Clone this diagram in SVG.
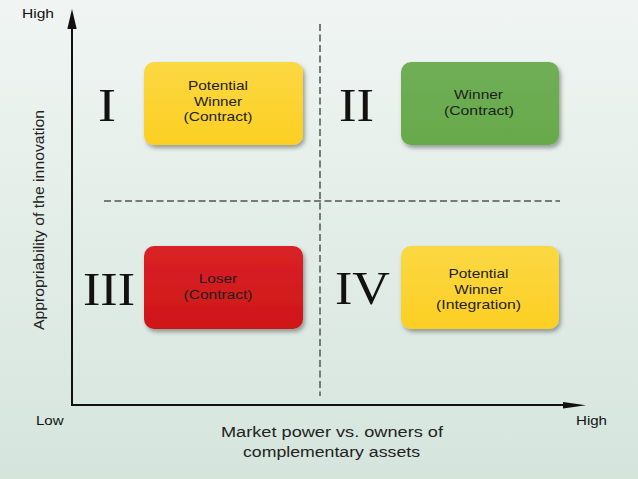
<svg xmlns="http://www.w3.org/2000/svg" width="638" height="479" viewBox="0 0 638 479">
<defs>
<linearGradient id="bg" x1="0" y1="0" x2="0" y2="1">
<stop offset="0" stop-color="#f0f5f3"/>
<stop offset="1" stop-color="#d5e5dc"/>
</linearGradient>
<linearGradient id="gy" x1="0" y1="0" x2="0" y2="1">
<stop offset="0" stop-color="#fbd843"/>
<stop offset="1" stop-color="#fccf22"/>
</linearGradient>
<linearGradient id="gg" x1="0" y1="0" x2="0" y2="1">
<stop offset="0" stop-color="#70ae55"/>
<stop offset="1" stop-color="#66aa4b"/>
</linearGradient>
<linearGradient id="gr" x1="0" y1="0" x2="0" y2="1">
<stop offset="0" stop-color="#d92226"/>
<stop offset="1" stop-color="#cf1618"/>
</linearGradient>
<filter id="sh" x="-10%" y="-10%" width="130%" height="140%">
<feDropShadow dx="2" dy="3" stdDeviation="2" flood-color="#000" flood-opacity="0.35"/>
</filter>
<style>
.box{filter:url(#sh)}
.bt{font-family:"Liberation Sans",Arial,sans-serif;font-size:13px;fill:#1e1e1e;text-anchor:middle}
.rn{font-family:"Liberation Serif","Times New Roman",serif;font-size:47px;fill:#111;text-anchor:middle}
.ax{font-family:"Liberation Sans",Arial,sans-serif;font-size:13.5px;fill:#111}
.al{font-family:"Liberation Sans",Arial,sans-serif;font-size:15.4px;fill:#222;text-anchor:middle}
.dash{stroke:#767a78;stroke-width:2;stroke-dasharray:7 3.5;fill:none}
.axis{stroke:#111;stroke-width:2;fill:none}
</style>
</defs>
<rect x="0" y="0" width="638" height="479" fill="url(#bg)"/>

<g id="connectors">
<line class="dash" x1="320" y1="24" x2="320" y2="396"/>
<line class="dash" x1="104" y1="201" x2="560" y2="201"/>
<line class="axis" x1="72" y1="405" x2="72" y2="27"/>
<polygon points="72,9 67.3,29 76.7,29" fill="#111"/>
<line class="axis" x1="71" y1="405" x2="565" y2="405"/>
<polygon points="586,405.3 563,402 563,408.6" fill="#111"/>
</g>

<g id="axis-labels">
<text class="ax" x="22" y="18" textLength="32" lengthAdjust="spacingAndGlyphs">High</text>
<text class="ax" x="36" y="425" textLength="27.6" lengthAdjust="spacingAndGlyphs">Low</text>
<text class="ax" x="576" y="425" textLength="31" lengthAdjust="spacingAndGlyphs">High</text>
<text class="al" transform="translate(44,220) rotate(-90)" x="0" y="0" textLength="220" lengthAdjust="spacingAndGlyphs">Appropriability of the innovation</text>
<text class="al" x="332" y="437" textLength="222" lengthAdjust="spacingAndGlyphs">Market power vs. owners of</text>
<text class="al" x="331.5" y="457" textLength="177" lengthAdjust="spacingAndGlyphs">complementary assets</text>
</g>

<g id="numerals">
<text class="rn" x="107" y="121" textLength="18" lengthAdjust="spacingAndGlyphs">I</text>
<text class="rn" x="356.5" y="121" textLength="35" lengthAdjust="spacingAndGlyphs">II</text>
<text class="rn" x="109" y="305" textLength="52" lengthAdjust="spacingAndGlyphs">III</text>
<text class="rn" x="362.5" y="304" textLength="55" lengthAdjust="spacingAndGlyphs">IV</text>
</g>

<g id="node-I">
<rect class="box" x="144" y="62" width="159" height="83" rx="10" fill="url(#gy)"/>
<text class="bt" x="218" y="90" textLength="60" lengthAdjust="spacingAndGlyphs">Potential</text>
<text class="bt" x="218" y="106" textLength="48" lengthAdjust="spacingAndGlyphs">Winner</text>
<text class="bt" x="218" y="121" textLength="69" lengthAdjust="spacingAndGlyphs">(Contract)</text>
</g>

<g id="node-II">
<rect class="box" x="401" y="62" width="158" height="83" rx="10" fill="url(#gg)"/>
<text class="bt" x="478.5" y="99" textLength="49" lengthAdjust="spacingAndGlyphs">Winner</text>
<text class="bt" x="479" y="115" textLength="70" lengthAdjust="spacingAndGlyphs">(Contract)</text>
</g>

<g id="node-III">
<rect class="box" x="144" y="246" width="159" height="83" rx="10" fill="url(#gr)"/>
<text class="bt" x="218" y="283" textLength="38.5" lengthAdjust="spacingAndGlyphs">Loser</text>
<text class="bt" x="218" y="299" textLength="69" lengthAdjust="spacingAndGlyphs">(Contract)</text>
</g>

<g id="node-IV">
<rect class="box" x="401" y="246" width="158" height="83" rx="10" fill="url(#gy)"/>
<text class="bt" x="478.5" y="278" textLength="60" lengthAdjust="spacingAndGlyphs">Potential</text>
<text class="bt" x="478.5" y="294" textLength="48.5" lengthAdjust="spacingAndGlyphs">Winner</text>
<text class="bt" x="478.5" y="309" textLength="85" lengthAdjust="spacingAndGlyphs">(Integration)</text>
</g>
</svg>
